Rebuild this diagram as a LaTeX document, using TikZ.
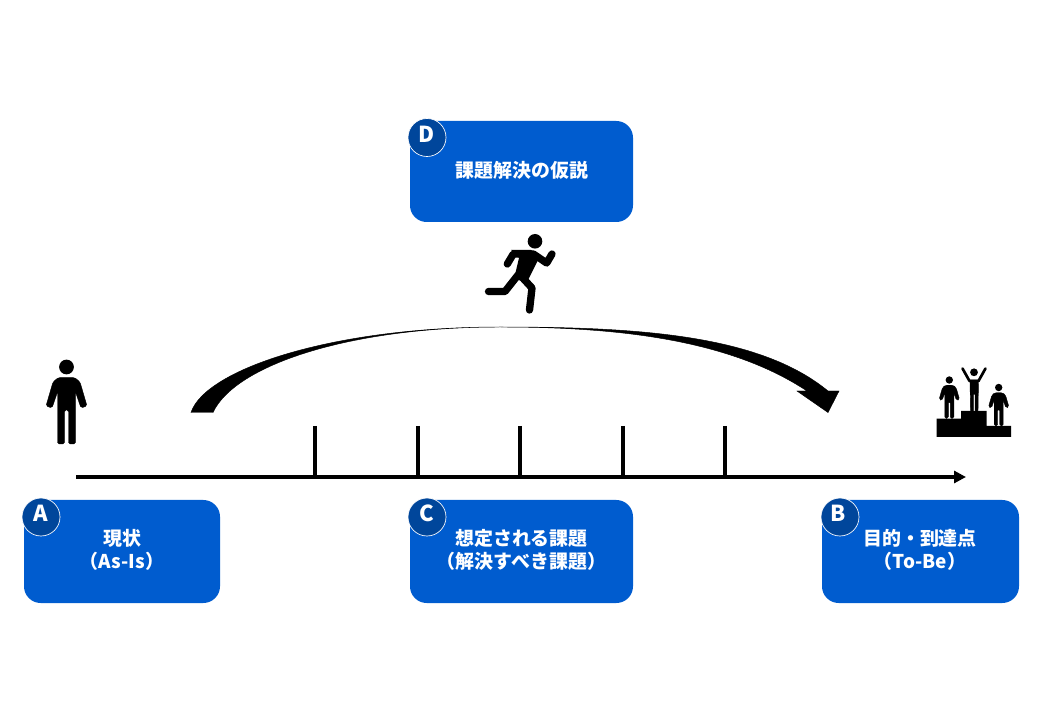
\documentclass[tikz,border=0pt]{standalone}
\usepackage{fontspec}
\setmainfont{Noto Sans CJK JP}
\usetikzlibrary{arrows.meta}

\definecolor{boxblue}{RGB}{0,92,207}
\definecolor{badgeblue}{RGB}{0,70,155}
\tikzset{
  bluebox/.style={draw=none,fill=boxblue,rounded corners=12.5pt,inner sep=0pt},
  boxtext/.style={inner sep=0pt,text=white,align=center,font=\fontsize{14.2}{17}\selectfont\bfseries},
  badge/.style={circle,draw=white,line width=0.5pt,fill=badgeblue,inner sep=0pt,
    minimum size=28.5pt},
  badgetext/.style={inner sep=0pt,text=white,font=\fontsize{16.5}{18}\selectfont\bfseries},
  axisline/.style={line width=3pt,-{Triangle[length=9pt,width=9pt]}},
  tickline/.style={line width=2.6pt},
  iconfill/.style={fill=black,draw=black,line width=0.3pt,rounded corners=1.2pt},
  iconline/.style={draw=black,line width=5.5pt,line cap=round,line join=round},
  standing/.pic={
    \fill (0,0) circle (7.4);
    \path[iconfill] (-9,77) -- (-9,25) -- (-14.5,41) -- (-20.5,39) -- (-13.5,15)
      -- (-8,10.5) -- (8,10.5) -- (13.5,15) -- (20.5,39) -- (14.5,41) -- (9,25)
      -- (9,77) -- (2,77) -- (2,43) -- (-2,43) -- (-2,77) -- cycle;
  }
}

\begin{document}
\begin{tikzpicture}[x=0.75pt,y=-0.75pt]
  \useasboundingbox (0,0) rectangle (1040,720);

  % boxes
  \node[bluebox,minimum width=167.25pt,minimum height=75.75pt] (hypothesis) at (521.5,171.5) {};
  \node[bluebox,minimum width=147pt,minimum height=77.25pt] (asis) at (122,551.5) {};
  \node[bluebox,minimum width=167.25pt,minimum height=77.25pt] (issue) at (521.5,551.5) {};
  \node[bluebox,minimum width=147.75pt,minimum height=77.25pt] (tobe) at (920.5,551.5) {};
  \node[boxtext] (hypothesistext) at (522,170.5) {課題解決の仮説};
  \node[boxtext] (asistext) at (122,550) {現状\\（As-Is）};
  \node[boxtext] (issuetext) at (521.5,550) {想定される課題\\（解決すべき課題）};
  \node[boxtext] (tobetext) at (920,550) {目的・到達点\\（To-Be）};

  % badges
  \node[badge] (badgea) at (41,517) {};
  \node[badge] (badgeb) at (840,517) {};
  \node[badge] (badgec) at (427,517) {};
  \node[badge] (badged) at (427,137.5) {};
  \node[badgetext] (lettera) at (41,513.5) {A};
  \node[badgetext] (letterb) at (838.5,513.5) {B};
  \node[badgetext] (letterc) at (427,513.5) {C};
  \node[badgetext] (letterd) at (427,134.5) {D};

  % time line
  \coordinate (axisstart) at (76,477);
  \coordinate (axisend) at (966,477);
  \draw[axisline] (axisstart) -- (axisend);
  \foreach \tx in {315,418,520,623,725}{
    \coordinate (tick\tx) at (\tx,426);
    \draw[tickline] (tick\tx) -- (tick\tx |- axisstart);
  }

  % curved arrow
  \filldraw[line width=0.35pt] (191,412.5) .. controls (205,370) and (330,327) .. (500,327)
    .. controls (640,327) and (760,335) .. (828,391) -- (839,391) -- (828,412.5)
    -- (797,391) -- (807,391) .. controls (730,340) and (620,327) .. (500,327)
    .. controls (350,327) and (235,365) .. (213,412.5) -- cycle;

  % person
  \pic at (66.5,367) {standing};

  % runner
  \fill (535,241.3) circle (7.3);
  \fill[line join=round] (511,250) -- (531,250) -- (540,256) -- (527,282) -- (514,279) -- (519,258) -- cycle;
  \draw[iconline] (507.3,264) -- (513.3,254) -- (533.3,254) -- (546.7,263) -- (552,254);
  \draw[iconline] (518,275) -- (505,291.5) -- (488.5,291.5);
  \draw[iconline] (520,275) -- (532,288) -- (529.5,310);

  % podium
  \fill (936.7,418.7) rectangle (961.5,437) (961,411) rectangle (986.7,437) (986,426) rectangle (1011,437);
  \pic[scale=0.5] at (949.3,380) {standing};
  \pic[scale=0.5] at (998.7,387.5) {standing};
  \fill (974,372.3) circle (3.9);
  \draw[draw=black,line width=2pt,line join=round,line cap=round] (962.5,368.5) -- (969.5,381) -- (978.5,381) -- (985.5,368.5);
  \path[iconfill,rounded corners=0.4pt] (970,380) -- (978.5,380) -- (978,411) -- (975,411) -- (975,394) -- (973.5,394) -- (973.5,411) -- (970.5,411) -- cycle;
\end{tikzpicture}
\end{document}
